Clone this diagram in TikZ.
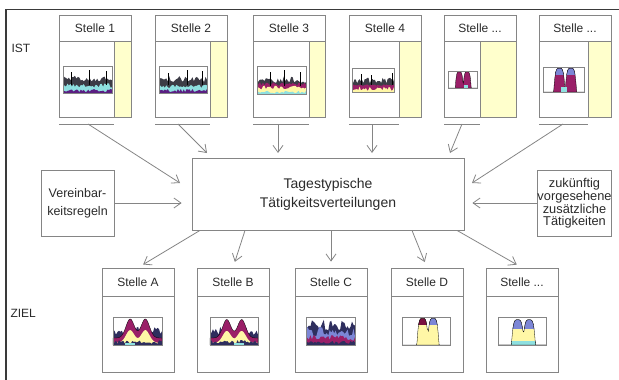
\documentclass[tikz,border=0pt]{standalone}
\usepackage{fontspec}
\setmainfont{Liberation Sans}
\usetikzlibrary{arrows.meta}

\definecolor{linegray}{HTML}{858585}
\definecolor{framegray}{HTML}{3A3A3A}
\definecolor{textgray}{HTML}{2A2A2A}
\definecolor{istyellow}{HTML}{FFFFCC}
\definecolor{chartdark}{HTML}{3C3C46}
\definecolor{chartcyan}{HTML}{8EE0E0}
\definecolor{chartpurple}{HTML}{5A1E82}
\definecolor{chartmagenta}{HTML}{9A1F68}
\definecolor{chartyellow}{HTML}{FFF7A6}
\definecolor{chartnavy}{HTML}{2E2E5E}
\definecolor{chartlav}{HTML}{7C86D6}
\definecolor{chartmaroon}{HTML}{7A1040}

\newcommand{\stellemore}{Stelle ...}
% noisy band from the bottom of a chart, top edge as pgfmath expression
\newcommand{\band}[2]{\fill[#1] (0,0) -- plot[domain=0:1,samples=34] (\x,{#2}) -- (1,0) -- cycle;}
\newcommand{\spikes}[1]{\foreach \s/\h in {#1} \draw[line width=0.5pt] (\s,0.3) -- (\s,\h);}
% tapered peak and round hump
\newcommand{\tw}[3]{max(0,1-min(abs(#1-#2)/#3,2)^4)}
\newcommand{\hm}[3]{exp(-min((abs(#1-#2)/#3)^2,30))}
\newcommand{\towers}[5]{\filldraw[#1] (0,0) -- plot[domain=0:1,samples=81] (\x,{#5*(\tw{\x}{#2}{#4}+\tw{\x}{#3}{#4})}) -- (1,0) -- cycle;}
\newcommand{\humps}[3]{\filldraw[#1] (0,0) -- plot[domain=0:1,samples=61] (\x,{#2+#3*(\hm{\x}{0.35}{0.12}+\hm{\x}{0.66}{0.12})}) -- (1,0) -- cycle;}

\begin{document}
\begin{tikzpicture}[x=1pt,y=-1pt,
  box/.style={draw=linegray,line width=0.8pt},
  stelle/.style={box,minimum width=72pt,inner sep=0pt},
  lbl/.style={text=textgray,font=\fontsize{12}{14}\selectfont},
  arr/.style={draw=linegray,line width=0.8pt,-{Straight Barb[length=7pt,width=10pt]}},
  chart/.style n args={4}{shift={(#1,#2)},xscale=#3,yscale=-#4},
  chartframe/.style={draw=linegray,line width=0.6pt}]
\useasboundingbox (0,0) rectangle (619,380);

% frame
\draw[framegray,line width=1.6pt] (6,380) -- (6,9.5) -- (619,9.5);

\node[lbl,anchor=west] (ist) at (8,48) {IST};
\node[lbl,anchor=west] (ziel) at (7,313) {ZIEL};

% centre
\node[box,minimum width=272pt,minimum height=72pt,align=center,
      font=\fontsize{14}{19}\selectfont,text=textgray] (tag) at (328,194)
      {Tagestypische\\Tätigkeitsverteilungen};

\node[box,minimum width=73pt,minimum height=66pt,inner sep=0pt,align=center,
      font=\fontsize{12.5}{18}\selectfont,text=textgray] (ver) at (77.5,203)
      {Vereinbar-\\keitsregeln};
\node[box,minimum width=73pt,minimum height=66pt,inner sep=0pt,align=center,
      font=\fontsize{12.8}{11.8}\selectfont,text=textgray] (zuk) at (574.5,203)
      {zukünftig\\vorgesehene\\zusätzliche\\Tätigkeiten};

% IST row
\foreach \l/\ys/\lab/\n in {59/114/Stelle 1/1,155/210/Stelle 2/2,253/309/Stelle 3/3,
    349/399/Stelle 4/4,444/480/\stellemore/5,539/588/\stellemore/6}{
  \fill[istyellow] (\ys,41) rectangle (\l+72,117);
  \node[stelle,minimum height=102pt] (s\n) at (\l+36,66) {};
  \draw[box] (\l,41) -- (\l+72,41) (\ys,41) -- (\ys,117);
  \node[lbl] (sl\n) at (\l+36,28) {\lab};
  \draw[box] (\l,124) -- (\ys,124);
}

\foreach \n/\ux/\tx/\ty in {1/88/180/183,2/178/207/153,3/278/278/153,
    4/372/372/153,5/462/450/153,6/563/472/183}{
  \coordinate (u\n) at (\ux,124);
  \coordinate (t\n) at (\tx,\ty);
  \draw[arr] (u\n) -- (t\n);
}

\draw[arr,shorten >=10pt] (ver) -- (ver -| tag.west);
\draw[arr,shorten >=8pt] (zuk) -- (zuk -| tag.east);

% ZIEL row
\foreach \l/\lab/\n in {102/Stelle A/1,197/Stelle B/2,295/Stelle C/3,
    391/Stelle D/4,486/\stellemore/5}{
  \node[stelle,minimum height=104pt] (z\n) at (\l+36,320) {};
  \draw[box] (\l,296) -- (\l+72,296);
  \node[lbl] (zl\n) at (\l+36,282) {\lab};
}

\foreach \n/\dx in {1/-128,2/-83,3/3,4/84,5/129}
  \draw[arr,shorten >=6pt] ([xshift=\dx pt]tag.south) -- (z\n.north);

% small charts
\pgfmathsetseed{11}
\begin{scope}[chart={63}{93}{49}{27}]
  \band{chartdark}{0.42+0.24*rnd}
  \band{chartcyan}{0.2+0.16*rnd}
  \band{chartpurple}{0.03+0.12*rnd}
  \spikes{0.16/0.78,0.54/0.86,0.88/0.8}
  \draw[chartframe] (0,0) rectangle (1,1);
\end{scope}
\begin{scope}[chart={159}{93}{48}{27}]
  \band{chartdark}{0.4+0.24*rnd}
  \band{chartcyan}{0.18+0.16*rnd}
  \band{chartpurple}{0.03+0.12*rnd}
  \spikes{0.2/0.75,0.58/0.85,0.9/0.82}
  \draw[chartframe] (0,0) rectangle (1,1);
\end{scope}
\begin{scope}[chart={257}{94}{49}{28}]
  \band{chartdark}{0.4+0.22*rnd}
  \band{chartmagenta}{0.3+0.12*rnd}
  \band{chartyellow}{0.16+0.14*rnd}
  \band{chartcyan}{0.02+0.1*rnd}
  \spikes{0.28/0.8,0.55/0.86,0.88/0.78}
  \draw[chartframe] (0,0) rectangle (1,1);
\end{scope}
\begin{scope}[chart={352}{92}{42}{24}]
  \band{chartdark}{0.35+0.25*rnd}
  \band{chartmagenta}{0.26+0.06*rnd}
  \band{chartyellow}{0.04+0.2*rnd}
  \spikes{0.22/0.75,0.45/0.7,0.95/0.8}
  \draw[chartframe] (0,0) rectangle (1,1);
\end{scope}
\begin{scope}[chart={448}{88}{29}{17}]
  \towers{fill=chartmagenta,draw=black,line width=0.3pt}{0.39}{0.66}{0.14}{0.95}
  \fill[chartcyan] (0.55,0) rectangle (0.68,0.15);
  \draw[chartframe] (0,0) rectangle (1,1);
\end{scope}
\begin{scope}[chart={543}{92}{41}{25}]
  \towers{fill=chartmagenta,draw=black,line width=0.3pt}{0.4}{0.68}{0.14}{0.95}
  \begin{scope}
    \clip (0,0.72) rectangle (1,1);
    \towers{fill=chartlav,draw=black,line width=0.3pt}{0.4}{0.68}{0.14}{0.95}
  \end{scope}
  \fill[chartcyan] (0.44,0) rectangle (0.58,0.2);
  \draw[chartframe] (0,0) rectangle (1,1);
\end{scope}

\begin{scope}[chart={113}{345}{49}{28}]
  \band{chartnavy}{0.35+0.3*rnd}
  \humps{fill=chartmagenta,draw=black,line width=0.3pt}{0.25}{0.68}
  \humps{fill=chartyellow,draw=none}{0.08}{0.45}
  \band{chartnavy}{0.04+0.14*rnd}
  \fill[chartcyan] (0.25,0) rectangle (0.45,0.08);
  \draw[chartframe] (0,0) rectangle (1,1);
\end{scope}
\begin{scope}[chart={210}{345}{48}{28}]
  \band{chartnavy}{0.35+0.3*rnd}
  \humps{fill=chartmagenta,draw=black,line width=0.3pt}{0.25}{0.66}
  \humps{fill=chartyellow,draw=none}{0.08}{0.42}
  \band{chartnavy}{0.04+0.14*rnd}
  \fill[chartcyan] (0.5,0) rectangle (0.7,0.08);
  \draw[chartframe] (0,0) rectangle (1,1);
\end{scope}
\begin{scope}[chart={306}{345}{49}{28}]
  \band{chartnavy}{0.5+0.4*rnd}
  \band{chartlav}{0.3+0.35*rnd}
  \band{chartmagenta}{0.15+0.2*rnd}
  \band{chartnavy}{0.03+0.12*rnd}
  \draw[chartframe] (0,0) rectangle (1,1);
\end{scope}
\begin{scope}[chart={402}{345}{48}{28}]
  \towers{fill=chartyellow,draw=black,line width=0.3pt}{0.43}{0.65}{0.12}{0.95}
  \begin{scope}
    \clip (0,0.74) rectangle (0.54,1);
    \towers{fill=chartmaroon,draw=black,line width=0.3pt}{0.43}{0.65}{0.12}{0.95}
  \end{scope}
  \begin{scope}
    \clip (0.54,0.74) rectangle (1,1);
    \towers{fill=chartlav,draw=black,line width=0.3pt}{0.43}{0.65}{0.12}{0.95}
  \end{scope}
  \draw[chartframe] (0,0) rectangle (1,1);
\end{scope}
\begin{scope}[chart={498}{345}{48}{28}]
  \towers{fill=chartyellow,draw=black,line width=0.3pt}{0.41}{0.65}{0.13}{0.9}
  \begin{scope}
    \clip (0,0.58) rectangle (1,1);
    \towers{fill=chartlav,draw=black,line width=0.3pt}{0.41}{0.65}{0.13}{0.9}
  \end{scope}
  \begin{scope}
    \clip (0,0) rectangle (1,0.12);
    \towers{fill=chartcyan,draw=black,line width=0.3pt}{0.41}{0.65}{0.13}{0.9}
  \end{scope}
  \draw[chartframe] (0,0) rectangle (1,1);
\end{scope}
\end{tikzpicture}
\end{document}
